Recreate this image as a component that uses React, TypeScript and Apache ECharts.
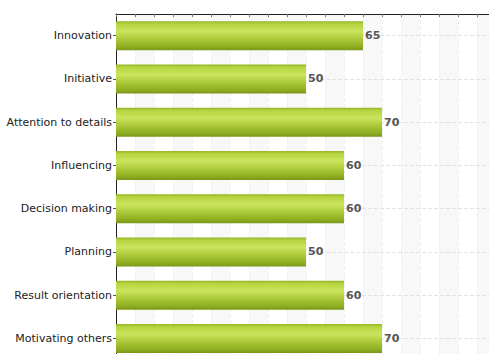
import React, { useEffect, useRef } from "react";
import * as echarts from "echarts";

const categories = [
  "Innovation",
  "Initiative",
  "Attention to details",
  "Influencing",
  "Decision making",
  "Planning",
  "Result orientation",
  "Motivating others",
];
const values = [65, 50, 70, 60, 60, 50, 60, 70];
const axisMin = 0;
const axisMax = 100;
const axisInterval = 5;

export default function App() {
  const ref = useRef<HTMLDivElement>(null);
  useEffect(() => {
    if (!ref.current) return;
    const chart = echarts.init(ref.current, undefined, { renderer: "svg" });
    chart.setOption({
      animation: false,
      backgroundColor: "#ffffff",
      grid: { left: 116, top: 14, width: 380, height: 346, containLabel: false },
      xAxis: {
        type: "value",
        position: "top",
        min: axisMin,
        max: axisMax,
        interval: axisInterval,
        axisLine: { show: true, lineStyle: { color: "#222", width: 1 } },
        axisTick: { show: true, inside: true, length: 3, lineStyle: { color: "#777" } },
        axisLabel: { show: false },
        splitLine: { show: true, lineStyle: { color: "#f0f0f0", type: "dashed" } },
        splitArea: { show: true, areaStyle: { color: ["rgba(255,255,255,0)", "#f8f8f8"] } },
      },
      yAxis: {
        type: "category",
        inverse: true,
        data: categories,
        axisLine: { show: true, lineStyle: { color: "#222", width: 1 } },
        axisTick: { show: true, alignWithLabel: true, length: 3, lineStyle: { color: "#555" } },
        axisLabel: {
          color: "#222",
          fontFamily: "DejaVu Sans",
          fontSize: 11,
          margin: 4,
        },
        splitLine: { show: false },
      },
      series: [
        {
          type: "line",
          data: [],
          z: 1,
          silent: true,
          markLine: {
            z: 1,
            silent: true,
            symbol: "none",
            label: { show: false },
            lineStyle: { color: "#e2e2e2", type: "dashed", width: 1 },
            data: categories.map((c) => ({ yAxis: c })),
          },
        },
        {
          type: "bar",
          data: values,
          z: 3,
          barWidth: 29,
          itemStyle: {
            color: new echarts.graphic.LinearGradient(0, 0, 0, 1, [
              { offset: 0, color: "#93b425" },
              { offset: 0.1, color: "#b6d43f" },
              { offset: 0.35, color: "#cbe45e" },
              { offset: 0.6, color: "#adcb3b" },
              { offset: 0.9, color: "#8cab1e" },
              { offset: 1, color: "#7a961a" },
            ]),
          },
          label: {
            show: true,
            position: "right",
            distance: 2,
            color: "#555",
            fontFamily: "DejaVu Sans",
            fontSize: 11,
            fontWeight: "bold",
          },
        },
      ],
    });
    return () => chart.dispose();
  }, []);
  return (
    <div style={{ position: "fixed", left: 0, top: 0, width: 489, height: 354, overflow: "hidden", background: "#fff" }}>
      <div ref={ref} style={{ width: 500, height: 370 }} />
    </div>
  );
}
